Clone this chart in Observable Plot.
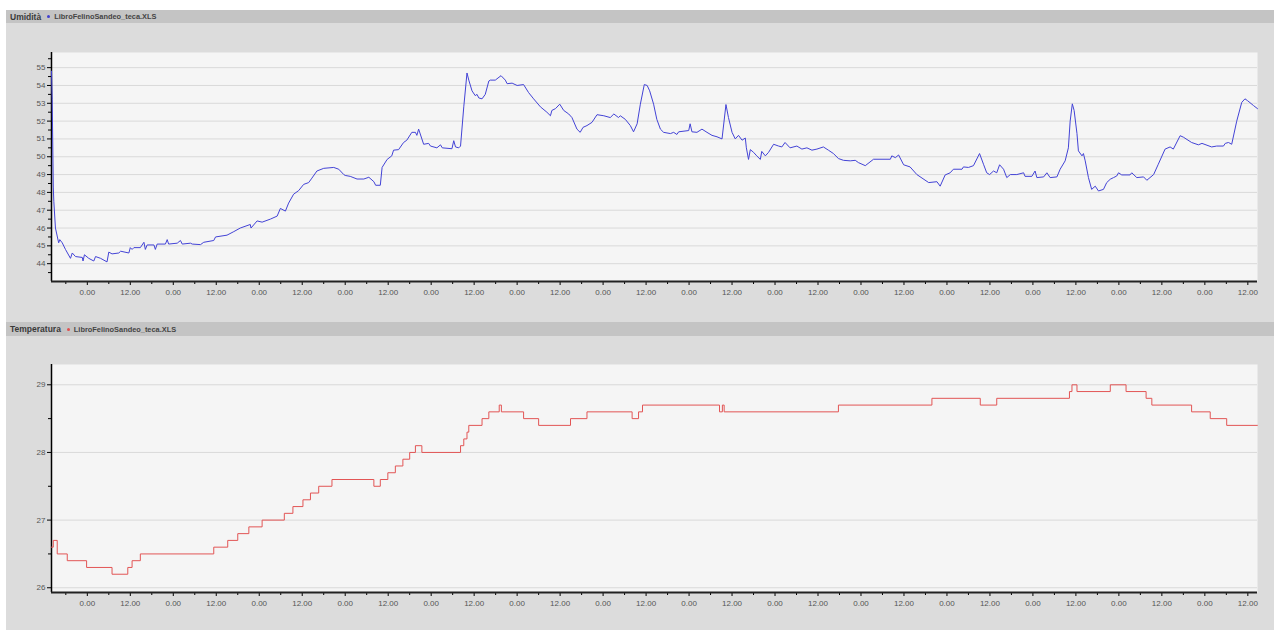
<!DOCTYPE html>
<html><head><meta charset="utf-8">
<script src="https://cdn.jsdelivr.net/npm/d3@7"></script>
<script src="https://cdn.jsdelivr.net/npm/@observablehq/plot@0.6"></script>
<style>
body{margin:0;width:1274px;height:630px;overflow:hidden;background:#fff;position:relative;font-family:"Liberation Sans",Arial,sans-serif;}
.panel{position:absolute;left:6px;width:1268px;background:#dcdcdc;}
.hdr{height:13px;background:#c4c4c4;display:flex;align-items:center;white-space:nowrap;}
.ttl{font-weight:bold;font-size:8.5px;color:#3a3a3a;margin-left:4px;}
.dot{display:inline-block;width:3px;height:3px;border-radius:50%;margin-left:6px;margin-right:4px;}
.src{font-size:7.4px;font-weight:bold;color:#444;}
svg{display:block;}
</style></head>
<body>
<div class="panel" style="top:10px;height:312px">
  <div class="hdr"><span class="ttl">Umidità</span><span class="dot" style="background:#4040d0"></span><span class="src">LibroFelinoSandeo_teca.XLS</span></div>
  <div id="c1"></div>
</div>
<div class="panel" style="top:322px;height:308px">
  <div class="hdr" style="height:14px"><span class="ttl">Temperatura</span><span class="dot" style="background:#e05050"></span><span class="src">LibroFelinoSandeo_teca.XLS</span></div>
  <div id="c2"></div>
</div>
<script>
// hours since the first reading (first reading ~14:00)
const humHours = [0,0.2,0.5,0.65,1.1,2.0,2.3,3.0,3.9,5.3,5.8,6.7,8.6,8.8,9.2,10.4,11.8,12.3,13.7,15.5,16.0,16.9,18.8,19.3,21.6,22.0,22.5,23.0,24.8,25.8,26.2,26.7,28.6,29.0,29.5,31.8,32.3,32.7,35.1,36.0,36.5,38.8,39.3,41.6,42.5,45.3,45.8,49.0,50.9,52.7,55.5,55.7,57.4,58.8,61.1,63.0,63.9,65.3,66.2,67.6,69.0,70.4,71.8,72.7,74.1,76.0,78.8,80.2,81.6,82.0,83.4,85.3,87.2,88.6,90.0,90.5,91.8,92.3,93.7,95.0,95.5,96.9,98.3,99.2,100.6,101.6,102.0,102.5,103.9,105.3,105.8,107.6,108.6,109.1,111.8,112.3,112.8,113.7,114.2,115.1,116.0,116.5,117.4,118.3,118.8,119.3,120.2,121.1,122.1,122.5,123.9,125.5,126.7,127.2,128.6,130.0,131.8,133.2,134.6,136.5,138.3,139.3,139.7,140.7,141.9,143.0,144.4,145.3,146.7,147.6,148.4,149.5,150.9,152.3,154.2,156.0,157.0,158.3,158.8,160.2,161.6,162.5,163.5,164.4,165.5,166.3,167.0,168.1,169.0,170.0,170.9,172.8,173.7,174.6,175.1,177.9,178.3,178.8,180.2,181.6,183.0,184.4,185.8,187.2,188.3,189.0,190.0,190.9,191.8,192.8,193.7,194.0,194.6,195.1,196.0,196.9,197.9,198.3,199.3,200.2,201.6,203.0,203.9,204.8,206.2,208.1,209.5,210.9,212.3,213.7,215.5,216.9,218.3,219.7,221.1,223.0,224.4,225.3,227.2,229.5,234.2,234.6,235.6,236.5,237.9,239.7,241.6,244.9,247.2,248.1,249.5,250.9,251.8,254.2,254.6,256.0,257.4,259.1,260.2,261.1,261.9,263.0,263.9,264.7,265.8,266.7,267.7,269.5,271.4,271.8,273.7,274.6,275.1,277.0,277.9,278.8,280.7,281.6,283.0,283.9,284.4,285.0,285.5,286.3,286.7,287.7,288.1,288.6,289.5,290.4,291.4,292.3,293.7,294.6,295.6,296.5,297.4,297.9,298.8,301.1,301.6,303.0,304.9,305.8,307.7,309.0,310.9,312.3,313.2,315.1,316.0,318.3,320.2,321.2,323.9,325.3,327.2,327.7,328.6,329.5,330.9,332.3,333.2,333.9,335.6,336.7];
const humValues = [54.8,53.2,48.3,47.5,46.0,45.17,45.35,45.17,44.8,44.3,44.6,44.4,44.35,44.15,44.5,44.3,44.15,44.4,44.3,44.1,44.65,44.55,44.6,44.7,44.6,44.9,44.8,44.9,44.9,45.2,44.8,45.05,45.05,44.8,45.1,45.1,45.35,45.1,45.15,45.3,45.1,45.15,45.1,45.07,45.2,45.3,45.5,45.6,45.8,46.0,46.2,46.0,46.4,46.33,46.5,46.67,47.1,46.95,47.4,47.9,48.1,48.45,48.55,48.8,49.2,49.35,49.4,49.3,49.0,48.95,48.9,48.75,48.75,48.85,48.6,48.4,48.4,49.4,49.85,50.05,50.37,50.4,50.8,50.93,51.37,51.37,51.2,51.55,50.7,50.75,50.6,50.5,50.67,50.5,50.45,50.9,50.55,50.5,50.6,52.8,54.7,54.3,53.7,53.43,53.5,53.3,53.25,53.5,54.25,54.3,54.3,54.55,54.3,54.1,54.13,54.0,54.05,53.6,53.25,52.8,52.5,52.3,52.6,52.7,52.95,52.6,52.4,52.2,51.55,51.37,51.65,51.75,51.93,52.36,52.3,52.2,52.4,52.2,52.3,52.1,51.75,51.4,51.85,52.95,54.05,54.0,53.7,52.95,52.1,51.55,51.37,51.3,51.37,51.25,51.4,51.47,51.85,51.4,51.37,51.55,51.37,51.2,51.12,51.0,52.93,52.2,51.37,51.0,51.2,50.93,51.05,50.5,49.85,50.4,50.25,50.05,49.85,50.3,50.05,50.25,50.7,50.6,50.55,50.8,50.5,50.6,50.43,50.5,50.37,50.43,50.55,50.37,50.18,49.9,49.8,49.77,49.8,49.67,49.5,49.86,49.86,50.05,49.95,50.1,49.55,49.43,49.0,48.55,48.6,48.35,48.98,49.1,49.3,49.3,49.43,49.4,49.5,50.18,49.58,49.1,49.0,49.2,49.1,49.55,49.3,48.83,49.0,49.0,49.1,48.9,48.9,49.2,48.83,48.87,49.1,48.83,48.87,49.3,49.77,50.5,52.0,52.97,52.6,51.3,50.33,50.05,50.18,49.77,48.83,48.17,48.35,48.08,48.17,48.55,48.74,48.83,48.92,49.1,48.98,48.98,49.1,48.83,48.87,48.68,49.0,49.58,50.43,50.55,50.43,51.18,51.1,50.8,50.67,50.75,50.55,50.6,50.6,50.75,50.8,50.7,52.0,53.05,53.25,53.15,52.87,52.7];

const tempHours = [0,0.5,1.6,4.4,9.8,16.9,21.3,22.5,24.8,45.3,49.2,52.0,55.1,58.8,65.0,67.4,70.2,72.3,74.6,78.3,90.0,91.8,93.9,96.0,98.1,100.0,101.6,103.4,114.2,115.1,116.0,116.5,120.2,122.1,125.0,125.6,131.8,136.0,144.9,149.5,162.1,163.9,165.0,186.5,187.3,187.8,219.7,245.8,259.3,263.9,284.2,284.9,286.3,295.6,300.0,305.6,307.2,318.3,323.5,328.1,336.7];
const tempValues = [26.6,26.7,26.5,26.4,26.3,26.2,26.3,26.4,26.5,26.6,26.7,26.8,26.9,27.0,27.1,27.2,27.3,27.4,27.5,27.6,27.5,27.6,27.7,27.8,27.9,28.0,28.1,28.0,28.1,28.2,28.3,28.4,28.5,28.6,28.7,28.6,28.5,28.4,28.5,28.6,28.5,28.6,28.7,28.6,28.7,28.6,28.7,28.8,28.7,28.8,28.9,29.0,28.9,29.0,28.9,28.8,28.7,28.6,28.5,28.4,28.4];

const xTickHours = [10,22,34,46,58,70,82,94,106,118,130,142,154,166,178,190,202,214,226,238,250,262,274,286,298,310,322,334];
const xTickLabels = ["0.00","12.00","0.00","12.00","0.00","12.00","0.00","12.00","0.00","12.00","0.00","12.00","0.00","12.00","0.00","12.00","0.00","12.00","0.00","12.00","0.00","12.00","0.00","12.00","0.00","12.00","0.00","12.00"];
const xMinorHours = [4,16,28,40,52,64,76,88,100,112,124,136,148,160,172,184,196,208,220,232,244,256,268,280,292,304,316,328];

const humTicks = [44,45,46,47,48,49,50,51,52,53,54,55];
const humMinor = [43.5,44.5,45.5,46.5,47.5,48.5,49.5,50.5,51.5,52.5,53.5,54.5,55.5];
const tempTicks = [26,27,28,29];
const tempMinor = [26.5,27.5,28.5];

const humData = humHours.map((h, i) => ({h, v: humValues[i]}));
const tempData = tempHours.map((h, i) => ({h, v: tempValues[i]}));

function chart(data, o) {
  return Plot.plot({
    width: 1268, height: o.height,
    marginLeft: 45, marginRight: 17, marginTop: o.marginTop, marginBottom: o.marginBottom,
    style: {background: "transparent", fontFamily: "Liberation Sans, Arial, sans-serif", fontSize: "8px", color: "#000"},
    x: {domain: [0, 336.7]},
    y: {domain: o.yDomain},
    marks: [
      Plot.frame({fill: "#f5f5f5", stroke: "none"}),
      Plot.gridY(o.yTicks, {stroke: "#d9d9d9", strokeOpacity: 1}),
      Plot.axisY(o.yMinor, {tickSize: 3, tickFormat: () => "", stroke: "#000", label: null}),
      Plot.axisY(o.yTicks, {tickSize: 4, tickPadding: 2, stroke: "#000", fill: "#555", fontSize: 8,
        tickFormat: d => String(d), label: null}),
      Plot.axisX(xMinorHours, {tickSize: 3, tickFormat: () => "", stroke: "#000", label: null}),
      Plot.axisX(xTickHours, {tickSize: 4, tickPadding: 4, stroke: "#000", fill: "#555", fontSize: 8,
        tickFormat: d => xTickLabels[xTickHours.indexOf(d)], label: null}),
      Plot.ruleX([0], {stroke: "#000", strokeWidth: 1.5}),
      Plot.ruleY([o.yDomain[0]], {stroke: "#222", strokeWidth: 2}),
      Plot.line(data, {x: "h", y: "v", stroke: o.color, strokeWidth: 1, curve: o.curve})
    ]
  });
}

document.getElementById("c1").append(chart(humData, {
  height: 289, marginTop: 29, marginBottom: 31,
  yDomain: [43, 55.85], yTicks: humTicks, yMinor: humMinor,
  color: "#4343d6", curve: "linear"
}));
document.getElementById("c2").append(chart(tempData, {
  height: 294, marginTop: 28, marginBottom: 38,
  yDomain: [25.93, 29.3], yTicks: tempTicks, yMinor: tempMinor,
  color: "#e25555", curve: "step-after"
}));
</script>
</body></html>
